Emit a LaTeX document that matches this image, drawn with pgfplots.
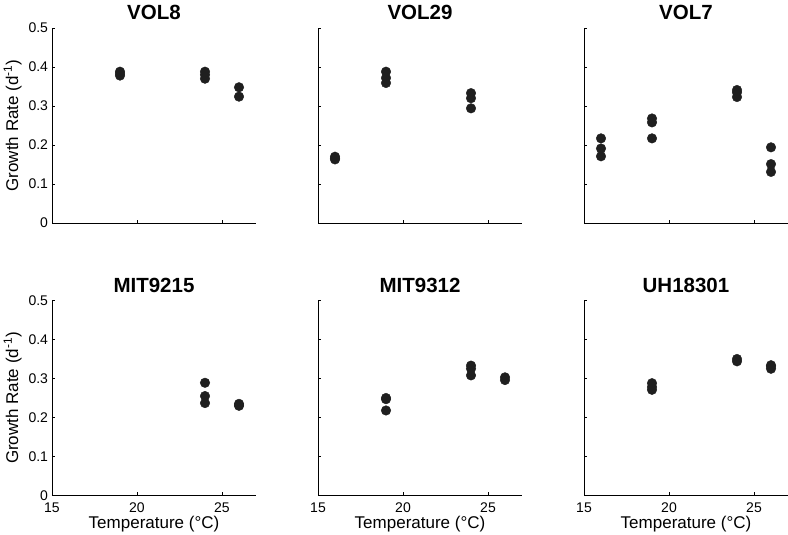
\documentclass[border=0pt]{standalone}
\usepackage{pgfplots}
\pgfplotsset{compat=1.18}
\usepackage{fontspec}
\setmainfont{Liberation Sans}
\begin{document}
\begin{tikzpicture}
\useasboundingbox (0pt,0pt) rectangle (788pt,535pt);
\pgfplotsset{
 panel/.style={
  scale only axis, width=204pt, height=195pt,
  xmin=15, xmax=27, ymin=0, ymax=0.5,
  axis x line*=bottom, axis y line*=left,
  axis line style={-, line width=0.9pt, black},
  xtick={15,20,25}, ytick={0,0.1,0.2,0.3,0.4,0.5},
  tick align=inside, major tick length=3pt,
  tick style={line width=0.8pt, black},
  ticklabel style={font=\fontsize{14}{16}\selectfont},
  xticklabel style={yshift=-4pt},
  yticklabel style={xshift=-0.5pt},
  /pgf/number format/assume math mode=true,
  title style={font=\bfseries\fontsize{20.5}{23}\selectfont, anchor=base, at={(0.5,1)}, yshift=2pt},
  label style={font=\fontsize{17}{19}\selectfont},
  xlabel style={yshift=4pt},
  anchor=south west,
 },
 dots/.style={only marks, mark=*, mark size=4.8pt, mark options={fill=black!88, draw=black!88}},
}
% ---- top row ----
\begin{axis}[panel, at={(52pt,312pt)}, title={VOL8}, xticklabels={},
  ylabel={Growth Rate (d\textsuperscript{-1})}]
\addplot[dots] coordinates {(19,0.378) (19,0.383) (19,0.388)
  (24,0.370) (24,0.380) (24,0.388) (26,0.348) (26,0.324)};
\end{axis}
\begin{axis}[panel, at={(318pt,312pt)}, title={VOL29}, xticklabels={}, yticklabels={}]
\addplot[dots] coordinates {(16,0.163) (16,0.166) (16,0.170)
  (19,0.359) (19,0.372) (19,0.388) (24,0.294) (24,0.320) (24,0.333)};
\end{axis}
\begin{axis}[panel, at={(584pt,312pt)}, title={VOL7}, xticklabels={}, yticklabels={}]
\addplot[dots] coordinates {(16,0.171) (16,0.191) (16,0.217)
  (19,0.217) (19,0.258) (19,0.268) (24,0.323) (24,0.335) (24,0.341)
  (26,0.131) (26,0.151) (26,0.194)};
\end{axis}
% ---- bottom row ----
\begin{axis}[panel, at={(52pt,39.5pt)}, title={MIT9215},
  ylabel={Growth Rate (d\textsuperscript{-1})}, xlabel={Temperature (°C)}]
\addplot[dots] coordinates {(24,0.237) (24,0.255) (24,0.289)
  (26,0.230) (26,0.232) (26,0.235)};
\end{axis}
\begin{axis}[panel, at={(318pt,39.5pt)}, title={MIT9312}, yticklabels={},
  xlabel={Temperature (°C)}]
\addplot[dots] coordinates {(19,0.218) (19,0.247) (19,0.250)
  (24,0.308) (24,0.325) (24,0.333) (26,0.296) (26,0.303)};
\end{axis}
\begin{axis}[panel, at={(584pt,39.5pt)}, title={UH18301}, yticklabels={},
  xlabel={Temperature (°C)}]
\addplot[dots] coordinates {(19,0.271) (19,0.278) (19,0.288)
  (24,0.344) (24,0.350) (26,0.325) (26,0.331) (26,0.334)};
\end{axis}
\end{tikzpicture}
\end{document}
